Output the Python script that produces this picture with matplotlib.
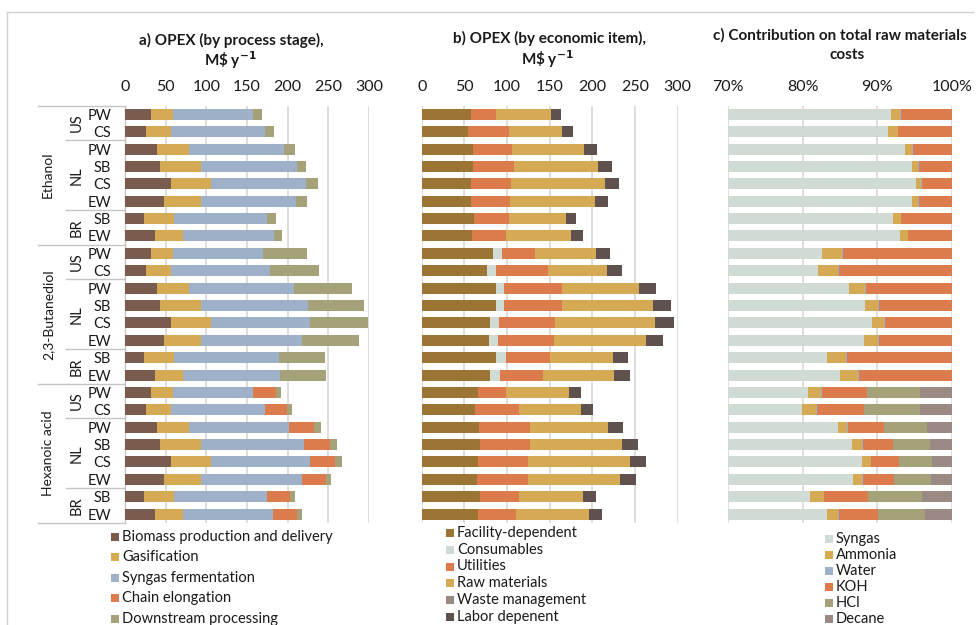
import matplotlib.pyplot as plt
from matplotlib.patches import Rectangle
from matplotlib.lines import Line2D
import matplotlib.transforms as mtransforms

plt.rcParams['font.family'] = ['Lato', 'DejaVu Sans']

# --- data -------------------------------------------------------------
products = ['Ethanol', '2,3-Butanediol', 'Hexanoic acid']
locations = ['US', 'NL', 'BR']
loc_sizes = [2, 4, 2]
feedstocks = ['PW', 'CS', 'PW', 'SB', 'CS', 'EW', 'SB', 'EW']

# a) OPEX by process stage, M$/y  (Ethanol 8, Butanediol 8, Hexanoic 8)
biomass = [32, 26, 39, 43, 56, 48, 23, 36.5,
           32, 26, 39, 43, 56, 48, 23, 36.5,
           32, 26, 39, 43, 56, 48, 23, 36.5]
gasification = [27, 31, 40, 50, 49.5, 45.5, 37.5, 35,
                27, 31, 40, 50, 49.5, 45.5, 37.5, 35,
                27, 31, 40, 50, 49.5, 45.5, 37.5, 35]
syngas_ferm = [98, 115.5, 116, 119, 117, 117, 114.5, 111.5,
               110.5, 121.5, 129, 132.5, 122, 123.5, 128.5, 118.5,
               98, 115, 123, 127.5, 122, 123.5, 114.5, 111]
chain_elong = [0, 0, 0, 0, 0, 0, 0, 0,
               0, 0, 0, 0, 0, 0, 0, 0,
               28.7, 27, 30.4, 31, 30.7, 29.8, 27.9, 29.1]
downstream = [11, 11, 14.5, 10.5, 14.5, 13.5, 11, 10,
              54, 59.5, 71, 68, 71.5, 71, 57, 57.5,
              6, 6, 9, 9, 8.5, 6, 5.5, 5.5]

# b) OPEX by economic item, M$/y
facility = [58, 54.5, 60, 60.5, 57.5, 57.5, 61.5, 59,
            83.5, 76.5, 86.5, 86.5, 79.5, 79, 87.5, 80.5,
            65.5, 62.5, 67, 68.5, 65.5, 65, 68.5, 65.5]
consumables = [0, 0, 0, 0, 0, 0, 0, 0,
               10.5, 11, 10.5, 10.5, 11.3, 10.6, 10.9, 10.9,
               0, 0, 0, 0, 0, 0, 0, 0]
utilities = [28.5, 47.3, 46.1, 47.7, 47.7, 46.5, 40.3, 39.8,
             38.3, 60.2, 67.2, 67.6, 65.7, 66, 52.4, 50.8,
             33.2, 52, 59.4, 58.9, 59, 59, 45.7, 44.6]
raw_materials = [64.9, 62.5, 84.3, 98.1, 109.7, 99.2, 66.8, 76.6,
                 72.3, 69.5, 91, 106.2, 117.1, 107, 73.8, 83.6,
                 74.2, 71.8, 92.5, 107.9, 119.2, 108.2, 75, 85.5]
waste_mgmt = [0, 0, 0, 0, 0, 0, 0, 0,
              0, 0, 0, 0, 0, 0, 0, 0,
              0, 0, 0, 0, 0, 0, 0, 0]
labor = [11.7, 12.8, 14.5, 16.4, 16.8, 15.7, 12.5, 13.3,
         16, 17.2, 19.9, 21.1, 21.5, 20.3, 17.6, 18,
         13.7, 14.5, 17.2, 17.9, 18.7, 18.4, 14.8, 15.6]

# c) share of total raw materials cost, %
syngas_pct = [91.85, 91.5, 93.7, 94.7, 95.2, 94.7, 92.1, 93.1,
              82.6, 82.05, 86.2, 88.3, 89.3, 88.2, 83.25, 85.05,
              80.65, 79.95, 84.7, 86.65, 87.9, 86.7, 81.0, 83.25]
ammonia_pct = [1.25, 1.3, 1.0, 0.8, 0.7, 0.8, 1.1, 1.0,
               2.7, 2.65, 2.2, 1.8, 1.6, 1.9, 2.55, 2.35,
               1.8, 1.85, 1.3, 1.3, 1.2, 1.25, 1.8, 1.45]
water_pct = [0.05, 0.05, 0.05, 0.05, 0.05, 0.05, 0.05, 0.05,
             0.1, 0.1, 0.1, 0.1, 0.1, 0.1, 0.1, 0.1,
             0.1, 0.1, 0.1, 0.1, 0.1, 0.1, 0.1, 0.1]
koh_pct = [6.85, 7.15, 5.25, 4.45, 4.05, 4.45, 6.75, 5.85,
           14.6, 15.2, 11.5, 9.8, 9.0, 9.8, 14.1, 12.5,
           6.05, 6.3, 4.8, 4.05, 3.7, 4.15, 5.8, 5.3]
hcl_pct = [0, 0, 0, 0, 0, 0, 0, 0,
           0, 0, 0, 0, 0, 0, 0, 0,
           7.2, 7.5, 5.8, 5.0, 4.5, 5.0, 7.3, 6.3]
decane_pct = [0, 0, 0, 0, 0, 0, 0, 0,
              0, 0, 0, 0, 0, 0, 0, 0,
              4.2, 4.3, 3.3, 2.9, 2.6, 2.8, 4.0, 3.6]

# colours
c_brown = '#7a5c4f'
c_gold = '#d6aa55'
c_blue = '#9fb1c9'
c_orange = '#dc7b4b'
c_olive = '#a5a27a'
c_ochre = '#9c7535'
c_mint = '#d0dcd3'
c_mauve = '#9b8a84'
c_dark = '#5e514e'

series_a = [('Biomass production and delivery', biomass, c_brown),
            ('Gasification', gasification, c_gold),
            ('Syngas fermentation', syngas_ferm, c_blue),
            ('Chain elongation', chain_elong, c_orange),
            ('Downstream processing', downstream, c_olive)]
series_b = [('Facility-dependent', facility, c_ochre),
            ('Consumables', consumables, c_mint),
            ('Utilities', utilities, c_orange),
            ('Raw materials', raw_materials, c_gold),
            ('Waste management', waste_mgmt, c_mauve),
            ('Labor depenent', labor, c_dark)]
series_c = [('Syngas', syngas_pct, c_mint),
            ('Ammonia', ammonia_pct, c_gold),
            ('Water', water_pct, c_blue),
            ('KOH', koh_pct, c_orange),
            ('HCl', hcl_pct, c_olive),
            ('Decane', decane_pct, c_mauve)]

# --- figure -----------------------------------------------------------
W, H = 976, 625
fig = plt.figure(figsize=(W / 100, H / 100), dpi=100)
fig.patch.set_facecolor('white')


def fx(px):
    return px / W


def fy(py):
    return 1 - py / H


top, bottom = fy(105.6), fy(522.8)
ax_a = fig.add_axes([fx(125), bottom, fx(244.1), top - bottom])
ax_b = fig.add_axes([fx(421.7), bottom, fx(256), top - bottom])
ax_c = fig.add_axes([fx(728.3), bottom, fx(223.4), top - bottom])

n = len(biomass)
rows = list(range(n))
bar_h = 0.63
grid_col = '#dcd7d4'


def stack(ax, series, start=None):
    left = [0] * n if start is None else list(start)
    for name, vals, col in series:
        ax.barh(rows, vals, left=left, height=bar_h, color=col,
                edgecolor='none', zorder=3, label=name)
        left = [l + v for l, v in zip(left, vals)]


stack(ax_a, series_a)
stack(ax_b, series_b)
stack(ax_c, series_c)

for ax in (ax_a, ax_b, ax_c):
    ax.set_ylim(n - 0.5, -0.5)
    ax.xaxis.tick_top()
    ax.tick_params(axis='x', length=0, pad=8, labelsize=11.5, colors='#1a1a1a')
    ax.tick_params(axis='y', length=0)
    for s in ax.spines.values():
        s.set_visible(False)
    ax.grid(axis='x', color=grid_col, linewidth=1.2, zorder=0)
    ax.set_axisbelow(True)

for ax in (ax_a, ax_b):
    ax.set_xlim(0, 300)
    ax.set_xticks([0, 50, 100, 150, 200, 250, 300])
ax_b.set_yticks([])

ax_c.set_xlim(70, 100)
ax_c.set_xticks([70, 80, 90, 100])
ax_c.set_xticklabels(['70%', '80%', '90%', '100%'])
ax_c.set_yticks([])

# category axis of panel a
ax_a.set_yticks(rows)
ax_a.set_yticklabels(feedstocks * 3, fontsize=10.5, color='#1a1a1a')
ax_a.tick_params(axis='y', pad=10)

trans = mtransforms.blended_transform_factory(ax_a.transAxes, ax_a.transData)
line_kw = dict(transform=trans, color='#c9c4c0', linewidth=1.0, clip_on=False)
ax_a.add_line(Line2D([0, 0], [-0.5, n - 0.5], **line_kw))
prod_x0 = (38 - 125) / 244.1
loc_x0 = (66 - 125) / 244.1
ax_a.add_line(Line2D([prod_x0, 0], [-0.5, -0.5], **line_kw))
pos = 0
for p, prod in enumerate(products):
    start = pos
    for loc, size in zip(locations, loc_sizes):
        ax_a.text((77 - 125) / 244.1, pos + (size - 1) / 2, loc, transform=trans,
                  rotation=90, ha='center', va='center', fontsize=10.5,
                  color='#1a1a1a')
        pos += size
        if pos < start + 8:
            ax_a.add_line(Line2D([loc_x0, 0], [pos - 0.5, pos - 0.5], **line_kw))
    ax_a.add_line(Line2D([prod_x0, 0], [pos - 0.5, pos - 0.5], **line_kw))
    ax_a.text((48 - 125) / 244.1, start + 3.5, prod, transform=trans,
              rotation=90, ha='center', va='center', fontsize=10,
              color='#1a1a1a')

# titles
title_kw = dict(ha='center', va='center', fontsize=11, fontweight='bold',
                color='#1a1a1a')
fig.text(fx(231), fy(40), 'a) OPEX (by process stage),', **title_kw)
fig.text(fx(230), fy(60), r'M\$ y$^{\mathbf{-1}}$', **title_kw)
fig.text(fx(550), fy(38), 'b) OPEX (by economic item),', **title_kw)
fig.text(fx(547), fy(59), r'M\$ y$^{\mathbf{-1}}$', **title_kw)
fig.text(fx(840), fy(35), 'c) Contribution on total raw materials', **title_kw)
fig.text(fx(847), fy(55), 'costs', **title_kw)


# legends drawn as small squares plus text
def legend(series, x_box, y0, step, size=8):
    for i, (name, vals, col) in enumerate(series):
        y = y0 + i * step
        fig.patches.append(Rectangle((fx(x_box), fy(y + size / 2)), fx(size),
                                     size / H, transform=fig.transFigure,
                                     facecolor=col, edgecolor='none'))
        fig.text(fx(x_box + size + 3), fy(y), name, ha='left', va='center',
                 fontsize=10.5, color='#1a1a1a')


legend(series_a, 111, 536.5, 20.6)
legend(series_b, 446, 532.7, 16.9)
legend(series_c, 825, 539.3, 15.9)

# chart area border
border_kw = dict(transform=fig.transFigure, color='#d6d1cd', linewidth=1.0)
fig.lines.append(Line2D([fx(7), fx(973)], [fy(12), fy(12)], **border_kw))
fig.lines.append(Line2D([fx(7), fx(7)], [fy(12), 0], **border_kw))

fig.savefig('out.png', dpi=100)
